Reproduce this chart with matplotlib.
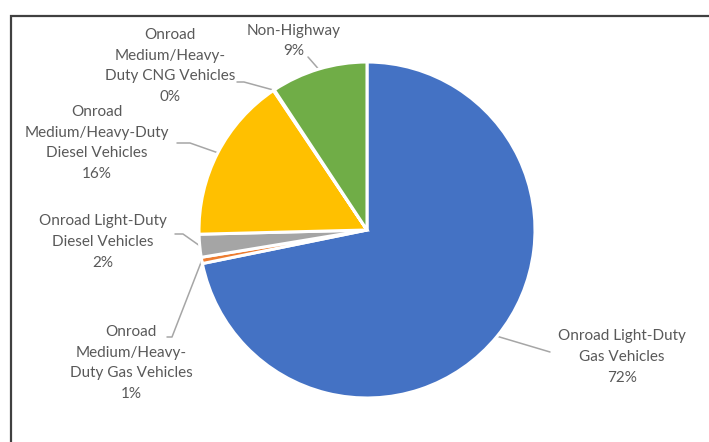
import matplotlib
matplotlib.use("Agg")
import matplotlib.pyplot as plt
import numpy as np

categories = [
    "Onroad Light-Duty\nGas Vehicles",
    "Onroad\nMedium/Heavy-\nDuty Gas Vehicles",
    "Onroad Light-Duty\nDiesel Vehicles",
    "Onroad\nMedium/Heavy-Duty\nDiesel Vehicles",
    "Onroad\nMedium/Heavy-\nDuty CNG Vehicles",
    "Non-Highway",
]
values = [71.8, 0.6, 2.2, 16.0, 0.1, 9.3]
pct_labels = ["72%", "1%", "2%", "16%", "0%", "9%"]
colors = ["#4472C4", "#ED7D31", "#A5A5A5", "#FFC000", "#5B9BD5", "#70AD47"]

W, H = 709, 442
fig = plt.figure(figsize=(W / 100, H / 100), dpi=100)
ax = fig.add_axes([0, 0, 1, 1])
ax.set_xlim(0, W)
ax.set_ylim(0, H)
ax.set_aspect("equal")
ax.axis("off")

cx, cy, r = 367, H - 230, 168
wedges, _ = ax.pie(values, colors=colors, startangle=90, counterclock=False,
                   center=(cx, cy), radius=r, frame=True,
                   wedgeprops=dict(edgecolor="white", linewidth=2.2))
ax.set_xlim(0, W)
ax.set_ylim(0, H)
ax.axis("off")

# label layout (pixel coords from top)
label_pos = [(622, 357), (131, 363), (103, 242), (97, 143), (170, 66), (294, 41)]
leader_pts = [
    [(550, 352)],
    [(167, 337), (172, 337)],
    [(175, 234), (183, 234)],
    [(177, 143), (190, 143)],
    [(237, 82), (244, 82)],
    [(308, 57)],
]

for w, lab, pct, (lx, ly), pts in zip(wedges, categories, pct_labels, label_pos, leader_pts):
    mid = np.deg2rad((w.theta1 + w.theta2) / 2)
    ax_ = cx + r * np.cos(mid)
    ay_ = cy + r * np.sin(mid)
    xs = [p[0] for p in pts] + [ax_]
    ys = [H - p[1] for p in pts] + [ay_]
    ax.plot(xs, ys, color="#A6A6A6", lw=1.1, solid_capstyle="round", zorder=0.5)
    ax.text(lx, H - ly, lab + "\n" + pct, ha="center", va="center",
            fontsize=11, family="Lato", color="#595959", linespacing=1.62)

# frame
ax.plot([11, 11, W + 5], [-5, H - 16, H - 16], color="#404040", lw=1.6,
        solid_joinstyle="miter", clip_on=False)

fig.savefig("out.png", dpi=100)
